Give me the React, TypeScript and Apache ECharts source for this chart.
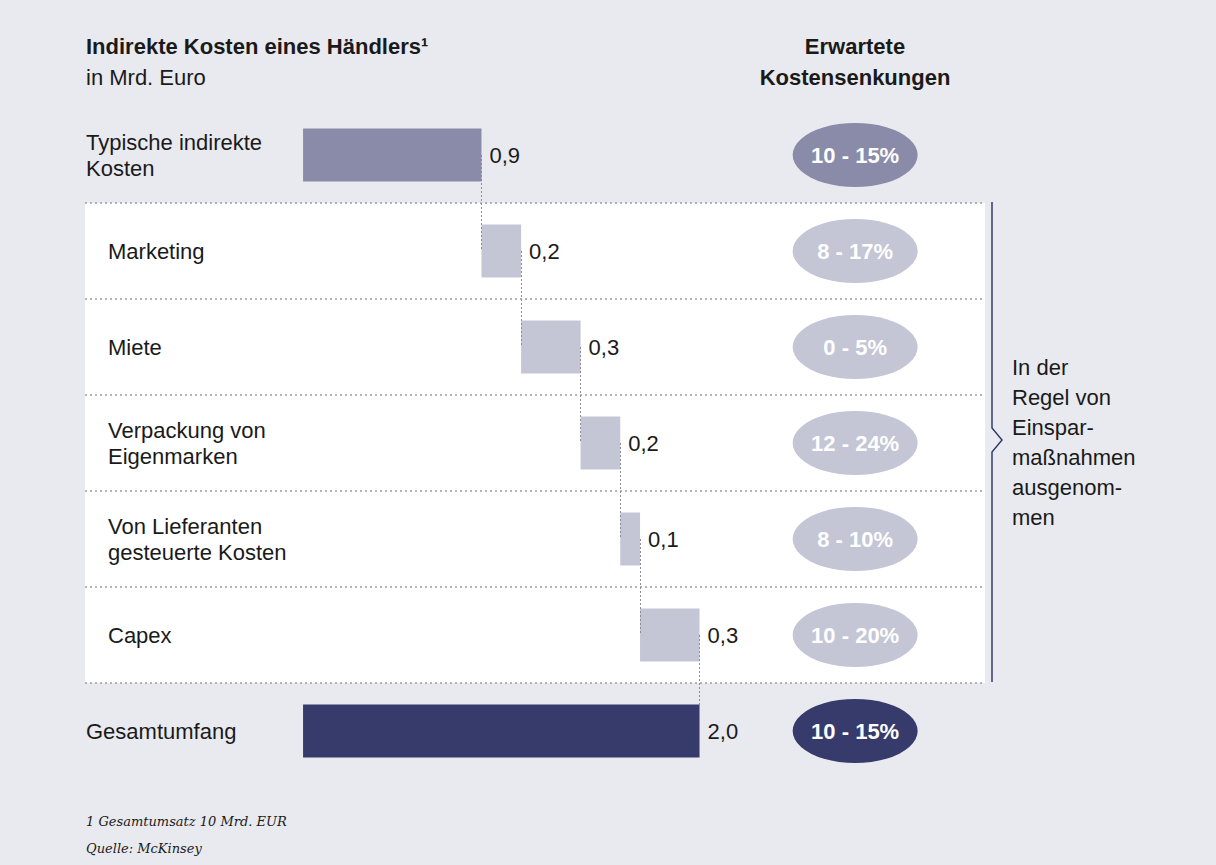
import React, { useEffect, useRef } from "react";
import * as echarts from "echarts";

const CATEGORIES = [
  "Typische indirekte\nKosten",
  "Marketing",
  "Miete",
  "Verpackung von\nEigenmarken",
  "Von Lieferanten\ngesteuerte Kosten",
  "Capex",
  "Gesamtumfang",
];
const INDENTED = [false, true, true, true, true, true, false];
const VALUES = [0.9, 0.2, 0.3, 0.2, 0.1, 0.3, 2.0];
const IS_TOTAL = [true, false, false, false, false, false, true];
const REDUCTIONS = ["10 - 15%", "8 - 17%", "0 - 5%", "12 - 24%", "8 - 10%", "10 - 20%", "10 - 15%"];
const NOTE_LINES = ["In der", "Regel von", "Einspar-", "maßnahmen", "ausgenom-", "men"];

const C_TOP = "#8a8ba9";
const C_MID = "#c4c5d5";
const C_TOT = "#363b6c";
const BG = "#e9eaf0";
const TXT = "#1a1a1a";
const FONT = "'Liberation Sans', Arial, sans-serif";
const FS = 22;

const rowColor = (i: number) => (i === 0 ? C_TOP : i === VALUES.length - 1 ? C_TOT : C_MID);

export default function App() {
  const ref = useRef<HTMLDivElement>(null);
  useEffect(() => {
    document.body.style.margin = "0";
    const chart = echarts.init(ref.current!, null, { renderer: "svg" });

    // waterfall bases
    const bases: number[] = [];
    let run = 0;
    VALUES.forEach((v, i) => {
      if (IS_TOTAL[i]) {
        bases.push(0);
        run = i === 0 ? v : run;
      } else {
        bases.push(run);
        run += v;
      }
    });
    const ends = VALUES.map((v, i) => bases[i] + v);
    const connectors = [] as any[];
    for (let i = 0; i < VALUES.length - 1; i++) {
      connectors.push([{ coord: [ends[i], i] }, { coord: [ends[i], i + 1] }]);
    }

    const ELLIPSE_X = 2.785;
    const fmt = (v: number) => v.toFixed(1).replace(".", ",");

    chart.setOption({
      animation: false,
      backgroundColor: BG,
      grid: { left: 85, right: 231, top: 107, bottom: 86 },
      xAxis: {
        type: "value",
        min: -1.1,
        max: 3.44,
        show: false,
      },
      yAxis: {
        type: "category",
        data: CATEGORIES,
        inverse: true,
        axisLine: { show: false },
        axisTick: { show: false },
        axisLabel: {
          inside: true,
          margin: 1,
          align: "left",
          formatter: (value: string, idx: number) =>
            value
              .split("\n")
              .map((l) => `{${INDENTED[idx] ? "ind" : "top"}|${l}}`)
              .join("\n"),
          rich: {
            top: { fontSize: FS, lineHeight: 26, color: TXT, fontFamily: FONT },
            ind: { fontSize: FS, lineHeight: 26, color: TXT, fontFamily: FONT, padding: [0, 0, 0, 22] },
          },
        },
        splitLine: {
          show: true,
          lineStyle: {
            type: [2, 3],
            width: 1.5,
            color: ["rgba(0,0,0,0)", "#9a9aa2", "#9a9aa2", "#9a9aa2", "#9a9aa2", "#9a9aa2", "#9a9aa2", "rgba(0,0,0,0)"],
          },
        },
        splitArea: {
          show: true,
          areaStyle: {
            color: ["rgba(0,0,0,0)", "#ffffff", "#ffffff", "#ffffff", "#ffffff", "#ffffff", "rgba(0,0,0,0)"],
          },
        },
      },
      series: [
        {
          type: "bar",
          stack: "w",
          barWidth: 53,
          silent: true,
          itemStyle: { color: "rgba(0,0,0,0)" },
          data: bases,
        },
        {
          type: "bar",
          stack: "w",
          barWidth: 53,
          silent: true,
          data: VALUES.map((v, i) => ({ value: v, itemStyle: { color: rowColor(i) } })),
          label: {
            show: true,
            position: "right",
            distance: 8,
            fontSize: FS,
            color: TXT,
            fontFamily: FONT,
            formatter: (p: any) => fmt(p.value),
          },
          markLine: {
            silent: true,
            symbol: "none",
            label: { show: false },
            lineStyle: { type: [2, 2], width: 1, color: "#8c8c94" },
            data: connectors,
          },
        },
        {
          type: "scatter",
          silent: true,
          z: 5,
          symbol: "circle",
          symbolSize: [125, 64],
          itemStyle: { opacity: 1 },
          data: REDUCTIONS.map((r, i) => ({
            value: [ELLIPSE_X, i],
            itemStyle: { color: rowColor(i), opacity: 1 },
          })),
          label: {
            show: true,
            position: "inside",
            fontSize: FS,
            fontWeight: "bold",
            color: "#ffffff",
            fontFamily: FONT,
            formatter: (p: any) => REDUCTIONS[p.dataIndex],
          },
        },
      ],
      graphic: [
        {
          type: "text",
          x: 86,
          y: 46,
          style: { text: "Indirekte Kosten eines Händlers¹", fontSize: FS, fontWeight: "bold", fill: TXT, fontFamily: FONT, verticalAlign: "middle" },
        },
        {
          type: "text",
          x: 86,
          y: 77,
          style: { text: "in Mrd. Euro", fontSize: FS, fill: TXT, fontFamily: FONT, verticalAlign: "middle" },
        },
        {
          type: "text",
          x: 855,
          y: 46,
          style: { text: "Erwartete", fontSize: FS, fontWeight: "bold", fill: TXT, fontFamily: FONT, align: "center", verticalAlign: "middle" },
        },
        {
          type: "text",
          x: 855,
          y: 77,
          style: { text: "Kostensenkungen", fontSize: FS, fontWeight: "bold", fill: TXT, fontFamily: FONT, align: "center", verticalAlign: "middle" },
        },
        {
          type: "polyline",
          shape: { points: [[992, 202], [992, 428], [1002, 440], [992, 452], [992, 682]] },
          style: { stroke: C_TOT, lineWidth: 1.5, fill: "none" },
        },
        ...NOTE_LINES.map((t, i) => ({
          type: "text",
          x: 1012,
          y: 367 + i * 30,
          style: { text: t, fontSize: FS, fill: TXT, fontFamily: FONT, verticalAlign: "middle" },
        })),
        {
          type: "text",
          x: 86,
          y: 821,
          style: { text: "1 Gesamtumsatz 10 Mrd. EUR", fontSize: 13, fontStyle: "italic", fill: TXT, fontFamily: "'DejaVu Serif', serif", verticalAlign: "middle" },
        },
        {
          type: "text",
          x: 86,
          y: 848,
          style: { text: "Quelle: McKinsey", fontSize: 13, fontStyle: "italic", fill: TXT, fontFamily: "'DejaVu Serif', serif", verticalAlign: "middle" },
        },
      ],
    });
    return () => chart.dispose();
  }, []);
  return <div ref={ref} style={{ width: 1216, height: 865 }} />;
}
